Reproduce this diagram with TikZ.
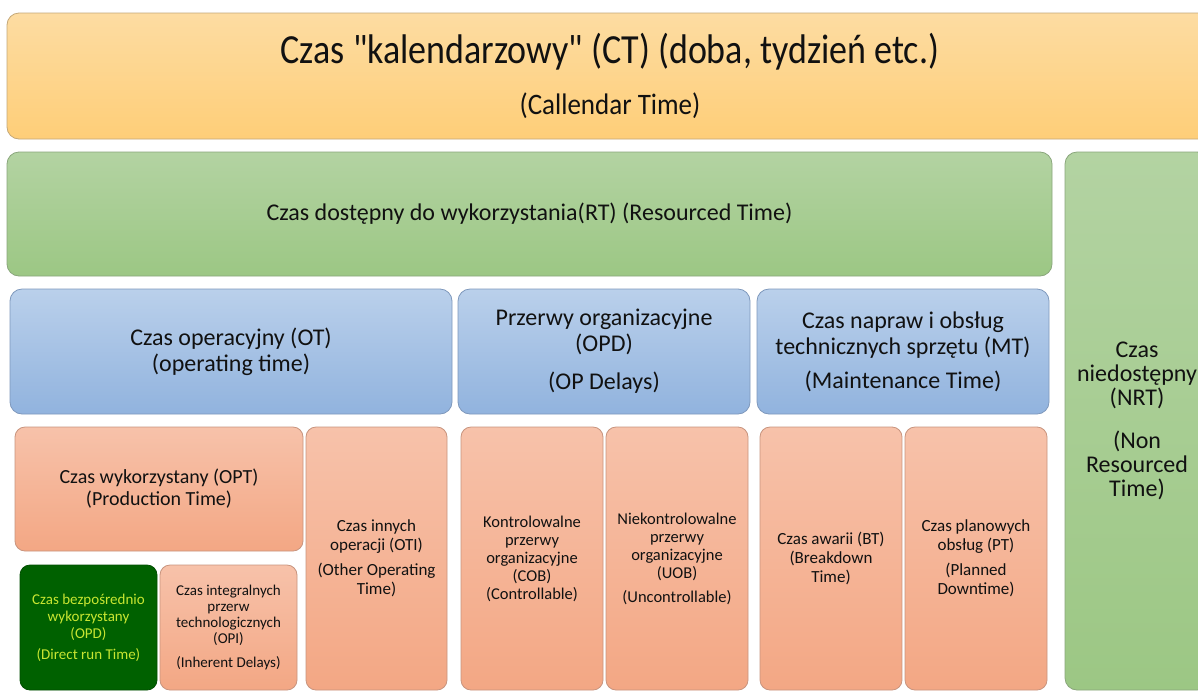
\documentclass[tikz,border=0pt]{standalone}
\usepackage{fontspec}
\setmainfont{Carlito}
\newfontfamily\plainq{Carlito}[Ligatures=Common]
\definecolor{ctT}{HTML}{FDDCA2}
\definecolor{ctB}{HTML}{FECE78}
\definecolor{ctD}{HTML}{C4A878}
\definecolor{rtT}{HTML}{B3D3A2}
\definecolor{rtB}{HTML}{9CC784}
\definecolor{rtD}{HTML}{8AA67C}
\definecolor{blT}{HTML}{BAD0EB}
\definecolor{blB}{HTML}{91B3DE}
\definecolor{blD}{HTML}{7E98BC}
\definecolor{rdT}{HTML}{F7C2AA}
\definecolor{rdB}{HTML}{F3A784}
\definecolor{rdD}{HTML}{C8947E}
\definecolor{dgreen}{HTML}{006100}
\definecolor{ygreen}{HTML}{C8E632}
\definecolor{txt}{HTML}{111111}
\tikzset{
  box/.style={rounded corners=12pt, line width=0.8pt, align=center, inner sep=2pt, text=txt},
  sz/.style 2 args={minimum width=#1, minimum height=#2},
  ctbox/.style={box, draw=ctD, top color=ctT, bottom color=ctB},
  greenbox/.style={box, draw=rtD, top color=rtT, bottom color=rtB},
  bluebox/.style={box, draw=blD, top color=blT, bottom color=blB, font=\fontsize{24}{26}\selectfont},
  redbox/.style={box, rounded corners=10pt, draw=rdD, top color=rdT, bottom color=rdB},
  darkbox/.style={box, rounded corners=10pt, draw=dgreen!80!black, fill=dgreen, text=ygreen},
}
\begin{document}
\begin{tikzpicture}[x=1pt, y=-1pt]
\useasboundingbox (0,0) rectangle (1198,691);
\fill[white] (0,0) rectangle (1198,691);
\clip (0,0) rectangle (1198,691);
% level 1
\node[ctbox, sz={1206pt}{126pt}] (ct) at (610,76)
  {\scalebox{1}[1.15]{\fontsize{36}{40}\selectfont Czas {\plainq"}kalendarzowy{\plainq"} (CT) (doba, tydzień etc.)}\\[22pt]
   \scalebox{1}[1.1]{\fontsize{27}{30}\selectfont (Callendar Time)}};
% level 2
\node[greenbox, sz={1045pt}{124pt}, font=\fontsize{24}{26}\selectfont] (rt) at (529.5,214)
  {Czas dostępny do wykorzystania(RT) (Resourced Time)};
\node[greenbox, sz={144pt}{538pt}, font=\fontsize{24}{24}\selectfont] (nrt) at (1137,421)
  {Czas\\niedostępny\\(NRT)\\[19pt](Non\\Resourced\\Time)};
% level 3
\node[bluebox, sz={442pt}{125pt}] (ot) at (231,351.5)
  {Czas operacyjny (OT)\\(operating time)};
\node[bluebox, sz={292pt}{125pt}] (opd) at (604,351.5)
  {Przerwy organizacyjne\\(OPD)\\[12pt](OP Delays)};
\node[bluebox, sz={292pt}{125pt}] (mt) at (903,351.5)
  {Czas napraw i obsług\\technicznych sprzętu (MT)\\[8pt](Maintenance Time)};
% level 4
\node[redbox, sz={288pt}{124pt}, font=\fontsize{20}{22}\selectfont] (opt) at (159,489)
  {Czas wykorzystany (OPT)\\(Production Time)};
\node[redbox, sz={141pt}{263pt}, font=\fontsize{17}{19}\selectfont] (oti) at (376.5,558.5)
  {Czas innych\\operacji (OTI)\\[6pt](Other Operating\\Time)};
\node[darkbox, sz={137pt}{125pt}, font=\fontsize{15}{17}\selectfont] (drt) at (88.5,627.5)
  {Czas bezpośrednio\\wykorzystany\\(OPD)\\[4pt](Direct run Time)};
\node[redbox, sz={137pt}{125pt}, font=\fontsize{15}{16}\selectfont] (opi) at (228.5,627.5)
  {Czas integralnych\\przerw\\technologicznych\\(OPI)\\[8pt](Inherent Delays)};
\node[redbox, sz={142pt}{263pt}, font=\fontsize{16.5}{18}\selectfont] (cob) at (532,558.5)
  {Kontrolowalne\\przerwy\\organizacyjne\\(COB)\\(Controllable)};
\node[redbox, sz={142pt}{263pt}, font=\fontsize{16.5}{18}\selectfont] (uob) at (677,558.5)
  {Niekontrolowalne\\przerwy\\organizacyjne\\(UOB)\\[6pt](Uncontrollable)};
\node[redbox, sz={142pt}{263pt}, font=\fontsize{17}{19}\selectfont] (bt) at (831,558.5)
  {Czas awarii (BT)\\(Breakdown\\Time)};
\node[redbox, sz={142pt}{263pt}, font=\fontsize{17}{19}\selectfont] (pt) at (976,558.5)
  {Czas planowych\\obsług (PT)\\[6pt](Planned\\Downtime)};
\end{tikzpicture}
\end{document}
